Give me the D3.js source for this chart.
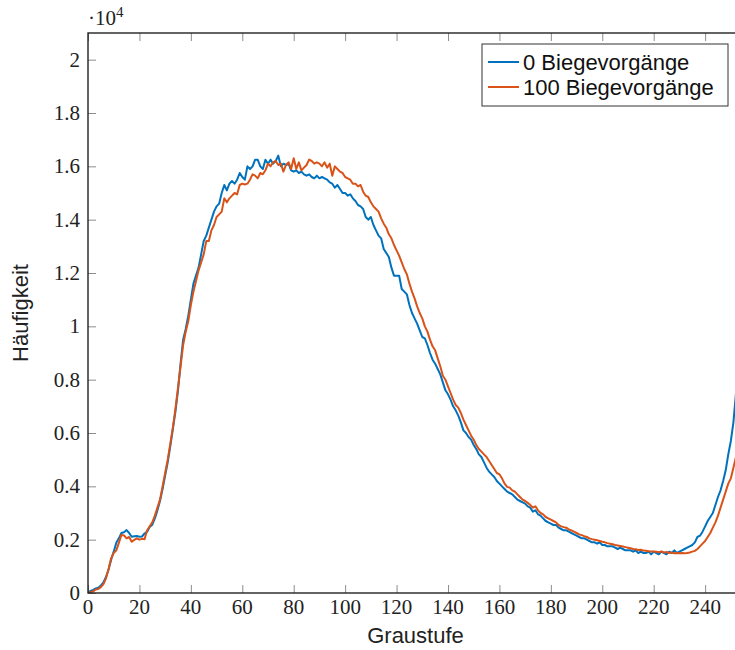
<!DOCTYPE html>
<html>
<head>
<meta charset="utf-8">
<script src="https://cdn.jsdelivr.net/npm/d3@7"></script>
<style>
  body { margin: 0; background: #fff; overflow: hidden; }
  #chart { width: 735px; height: 650px; }
</style>
</head>
<body>
<div id="chart"></div>
<script>
// histogram counts per gray level (0 .. 253)
const counts0 = [
    0, 80, 120, 170, 200, 280, 400, 600, 880, 1250,
    1550, 1880, 2050, 2250, 2280, 2360, 2250, 2110, 2130, 2140,
    2110, 2120, 2230, 2300, 2480, 2560, 2800, 3100, 3450, 3900,
    4400, 4900, 5500, 6150, 6800, 7600, 8600, 9500, 9900, 10400,
    11000, 11600, 11900, 12200, 12700, 13200, 13400, 13700, 14000, 14300,
    14500, 14600, 15000, 15300, 15100, 15350, 15450, 15350, 15500, 15750,
    15600, 15500, 16000, 15900, 16000, 16250, 16250, 16000, 15900, 16250,
    16100, 16250, 16100, 16200, 16400, 16000, 16100, 16050, 16100, 15850,
    15800, 15850, 15750, 15800, 15700, 15650, 15700, 15600, 15550, 15650,
    15550, 15600, 15550, 15500, 15400, 15350, 15200, 15300, 15150, 15000,
    15000, 14900, 14950, 14800, 14700, 14550, 14500, 14400, 14100, 14000,
    14100, 13800, 13600, 13400, 13300, 12900, 12750, 12600, 12200, 11900,
    11900, 11900, 11400, 11300, 11200, 10800, 10500, 10300, 10100, 9850,
    9600, 9550, 9300, 9000, 8750, 8600, 8400, 8200, 7900, 7600,
    7450, 7250, 7000, 6850, 6650, 6400, 6100, 6000, 5850, 5750,
    5550, 5400, 5200, 5100, 4900, 4700, 4550, 4450, 4350, 4200,
    4100, 4000, 3900, 3800, 3750, 3700, 3600, 3500, 3450, 3400,
    3350, 3250, 3200, 3050, 3100, 2950, 2900, 2800, 2700, 2650,
    2600, 2550, 2550, 2450, 2400, 2350, 2350, 2300, 2250, 2200,
    2150, 2100, 2050, 2050, 2000, 1950, 1900, 1900, 1850, 1900,
    1800, 1800, 1750, 1750, 1750, 1700, 1650, 1700, 1650, 1600,
    1600, 1600, 1550, 1600, 1500, 1550, 1500, 1500, 1550, 1450,
    1550, 1500, 1450, 1550, 1500, 1450, 1550, 1500, 1600, 1500,
    1550, 1600, 1650, 1700, 1750, 1800, 1900, 2100, 2150, 2300,
    2500, 2700, 2850, 3000, 3300, 3600, 3850, 4200, 4600, 5200,
    5700, 6400, 7500, 9000
]

const counts100 = [
    0, 30, 60, 130, 150, 220, 330, 550, 900, 1300,
    1500, 1600, 1880, 2180, 2160, 2050, 2100, 1920, 1990, 2050,
    2000, 2030, 2020, 2350, 2500, 2650, 2900, 3200, 3500, 4000,
    4500, 5000, 5600, 6200, 6900, 7700, 8500, 9300, 9800, 10200,
    10800, 11300, 11700, 12100, 12400, 12700, 13200, 13200, 13600, 13800,
    14100, 14200, 14300, 14800, 14650, 14800, 14900, 15000, 14950, 15300,
    15350, 15320, 15350, 15500, 15700, 15650, 15550, 15750, 15700, 15850,
    16100, 16000, 16150, 16200, 16050, 16100, 15800, 16050, 16150, 15900,
    16300, 15900, 16150, 15850, 15950, 16050, 16250, 16200, 16100, 16150,
    16100, 16000, 16150, 15950, 16100, 15650, 16000, 15900, 15800, 15750,
    15600, 15550, 15500, 15350, 15350, 15250, 15300, 15050, 14900, 14850,
    14650, 14500, 14400, 14300, 14050, 13850, 13700, 13450, 13300, 13050,
    12850, 12650, 12400, 12150, 11950, 11600, 11300, 11050, 10750, 10500,
    10300, 10000, 9800, 9500, 9250, 9100, 8800, 8500, 8150, 8000,
    7750, 7500, 7250, 7050, 6950, 6750, 6500, 6300, 6100, 5900,
    5750, 5550, 5400, 5300, 5200, 5100, 4950, 4800, 4650, 4500,
    4450, 4300, 4100, 3980, 3950, 3850, 3800, 3700, 3600, 3500,
    3450, 3380, 3300, 3200, 3250, 3100, 3000, 2950, 2850, 2800,
    2750, 2700, 2650, 2550, 2500, 2470, 2450, 2380, 2350, 2300,
    2250, 2200, 2170, 2130, 2100, 2050, 2020, 2000, 1980, 1950,
    1920, 1900, 1870, 1850, 1830, 1800, 1780, 1760, 1740, 1720,
    1700, 1680, 1650, 1640, 1610, 1620, 1590, 1580, 1570, 1560,
    1560, 1550, 1530, 1560, 1520, 1540, 1500, 1520, 1490, 1500,
    1490, 1500, 1490, 1500, 1520, 1550, 1580, 1650, 1750, 1850,
    1950, 2100, 2250, 2450, 2650, 2900, 3200, 3500, 3800, 4100,
    4300, 4700, 5100, 5600
]

// gray level of each bin
const grayLevels = d3.range(counts0.length)

const seriesNames = ['0 Biegevorgänge', '100 Biegevorgänge']
const seriesColors = ['#0072bd', '#d95319']

const xTicks = [0, 20, 40, 60, 80, 100, 120, 140, 160, 180, 200, 220, 240]
const yTicks = [0, 2000, 4000, 6000, 8000, 10000, 12000, 14000, 16000, 18000, 20000]

const plotHistogram = () => {

    const width = 735
    const height = 650

    // plot box, right edge runs past the window like in the reference
    const box = { left: 88, top: 33, right: 743.7, bottom: 593 }

    const svg = d3.select('#chart')
        .append('svg')
        .attr('width', width)
        .attr('height', height)

    const xScale = d3.scaleLinear()
        .domain([0, 255])
        .range([box.left, box.right])

    const yScale = d3.scaleLinear()
        .domain([0, 21000])
        .range([box.bottom, box.top])

    // inner ticks, bottom + top
    const xAxisBottom = d3.axisTop(xScale)
        .tickValues(xTicks)
        .tickSize(8)
        .tickFormat('')

    const xAxisTop = d3.axisBottom(xScale)
        .tickValues(xTicks)
        .tickSize(8)
        .tickFormat('')

    const yAxisLeft = d3.axisRight(yScale)
        .tickValues(yTicks)
        .tickSize(8)
        .tickFormat('')

    svg.append('g')
        .attr('transform', `translate(0, ${box.bottom})`)
        .call(xAxisBottom)

    svg.append('g')
        .attr('transform', `translate(0, ${box.top})`)
        .call(xAxisTop)

    svg.append('g')
        .attr('transform', `translate(${box.left}, 0)`)
        .call(yAxisLeft)

    svg.selectAll('.domain').remove()
    svg.selectAll('.tick line')
        .attr('stroke', '#8c8c8c')
        .attr('stroke-width', 1)

    // tick labels
    svg.selectAll('.xLabel')
        .data(xTicks)
        .enter()
        .append('text')
            .attr('class', 'xLabel')
            .attr('x', d => xScale(d))
            .attr('y', box.bottom + 21)
            .attr('text-anchor', 'middle')
            .attr('font-family', 'Liberation Serif, serif')
            .attr('font-size', '21px')
            .attr('fill', '#222')
            .text(d => d)

    svg.selectAll('.yLabel')
        .data(yTicks)
        .enter()
        .append('text')
            .attr('class', 'yLabel')
            .attr('x', box.left - 8)
            .attr('y', d => yScale(d) + 7)
            .attr('text-anchor', 'end')
            .attr('font-family', 'Liberation Serif, serif')
            .attr('font-size', '21px')
            .attr('fill', '#222')
            .text(d => d3.format('~g')(d / 10000))

    // scale factor above the y axis
    const factor = svg.append('text')
        .attr('x', box.left)
        .attr('y', 25)
        .attr('font-family', 'Liberation Serif, serif')
        .attr('font-size', '21px')
        .attr('fill', '#222')
    factor.append('tspan').text('·10')
    factor.append('tspan')
        .attr('dy', -8)
        .attr('font-size', '15px')
        .text('4')

    // clip the lines to the plot box
    svg.append('clipPath')
        .attr('id', 'plotClip')
        .append('rect')
            .attr('x', box.left)
            .attr('y', box.top)
            .attr('width', box.right - box.left)
            .attr('height', box.bottom - box.top)

    const line = d3.line()
        .x((d, i) => xScale(grayLevels[i]))
        .y(d => yScale(d))

    const lines = svg.append('g')
        .attr('clip-path', 'url(#plotClip)')

    ;[counts0, counts100].forEach((series, i) => {
        lines.append('path')
            .datum(series)
            .attr('fill', 'none')
            .attr('stroke', seriesColors[i])
            .attr('stroke-width', 2)
            .attr('stroke-linejoin', 'round')
            .attr('d', line)
    })

    // axis frame
    svg.append('rect')
        .attr('x', box.left)
        .attr('y', box.top)
        .attr('width', box.right - box.left)
        .attr('height', box.bottom - box.top)
        .attr('fill', 'none')
        .attr('stroke', '#222')
        .attr('stroke-width', 1.4)

    // axis titles
    svg.append('text')
        .attr('x', (box.left + 735) / 2 + 4)
        .attr('y', 643)
        .attr('text-anchor', 'middle')
        .attr('font-family', 'Liberation Sans, Arial, sans-serif')
        .attr('font-size', '22px')
        .attr('fill', '#222')
        .text('Graustufe')

    svg.append('text')
        .attr('transform', `translate(28, ${(box.top + box.bottom) / 2}) rotate(-90)`)
        .attr('text-anchor', 'middle')
        .attr('font-family', 'Liberation Sans, Arial, sans-serif')
        .attr('font-size', '22px')
        .attr('fill', '#222')
        .text('Häufigkeit')

    // legend
    const legend = svg.append('g')

    legend.append('rect')
        .attr('x', 482)
        .attr('y', 44)
        .attr('width', 246)
        .attr('height', 62)
        .attr('fill', '#fff')
        .attr('stroke', '#333')
        .attr('stroke-width', 1)

    legend.selectAll('legendLines')
        .data(seriesNames)
        .enter()
        .append('line')
            .attr('x1', 488)
            .attr('x2', 519)
            .attr('y1', (d, i) => 62 + 25 * i)
            .attr('y2', (d, i) => 62 + 25 * i)
            .attr('stroke', (d, i) => seriesColors[i])
            .attr('stroke-width', 2)

    legend.selectAll('legendLabels')
        .data(seriesNames)
        .enter()
        .append('text')
            .attr('x', 523)
            .attr('y', (d, i) => 62 + 25 * i + 8)
            .attr('font-family', 'Liberation Sans, Arial, sans-serif')
            .attr('font-size', '22px')
            .attr('fill', '#111')
            .text(d => d)

}

plotHistogram()
</script>
</body>
</html>
